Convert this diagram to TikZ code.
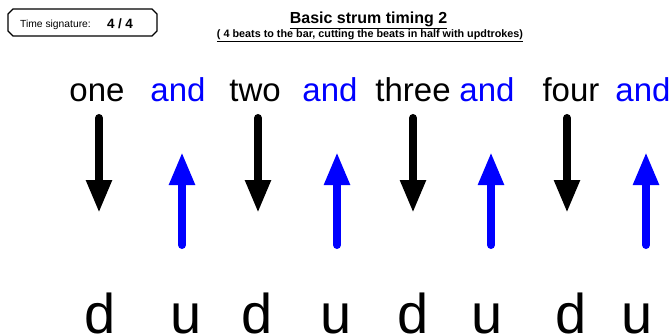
\documentclass[tikz,border=0pt]{standalone}
\usepackage{fontspec}
\setmainfont{Liberation Sans}
\usetikzlibrary{arrows.meta}
\tikzset{
  word/.style={anchor=base,inner sep=0pt,font=\fontsize{33}{33}\selectfont},
  stroke/.style={anchor=base,inner sep=0pt,font=\fontsize{56}{56}\selectfont},
  strum/.style={line width=8pt,line cap=round,-{Triangle[length=33pt,width=24pt]}}
}
\begin{document}
\begin{tikzpicture}[x=1pt,y=-1pt]
\useasboundingbox (0,0) rectangle (669,334);
% time signature box
\draw[line width=1.3pt,line join=round] (13,9) -- (152,9) -- (157,14) -- (157,31) -- (152,36)
  -- (13,36) -- (8,31) -- (8,14) -- cycle;
\node[anchor=base west,inner sep=0pt,font=\fontsize{10.3}{10.3}\selectfont] (siglabel) at (20,27.3) {Time signature:};
\node[anchor=base west,inner sep=0pt,font=\fontsize{13.5}{13.5}\selectfont\bfseries] (sigvalue) at (107,28.5) {4\hspace{3.5pt}/\hspace{3.5pt}4};
% title
\node[anchor=base,inner sep=0pt,font=\fontsize{16}{16}\selectfont\bfseries] (title) at (368.5,23.5) {\underline{Basic strum timing 2}};
\node[anchor=base,inner sep=0pt,font=\fontsize{10.8}{10.8}\selectfont\bfseries] (subtitle) at (370,38) {\underline{( 4 beats to the bar, cutting the beats in half with updtrokes)}};
% counting words
\foreach \x/\w/\c in {97/one/black,178/and/blue,255/two/black,330/and/blue,
  413/three/black,487/and/blue,571/four/black,643/and/blue}
  \node[word,text=\c] (w\x) at (\x,102) {\w};
% strum arrows
\foreach \x in {99,258,413,567}
  \draw[strum,black] (\x,118) -- (\x,213);
\foreach \x in {182,337,491,646}
  \draw[strum,blue] (\x,245) -- (\x,152);
% down / up letters
\foreach \x/\l in {100/d,186/u,257/d,336/u,413/d,487/u,571/d,637/u}
  \node[stroke] (s\x) at (\x,333.5) {\l};
\end{tikzpicture}
\end{document}
